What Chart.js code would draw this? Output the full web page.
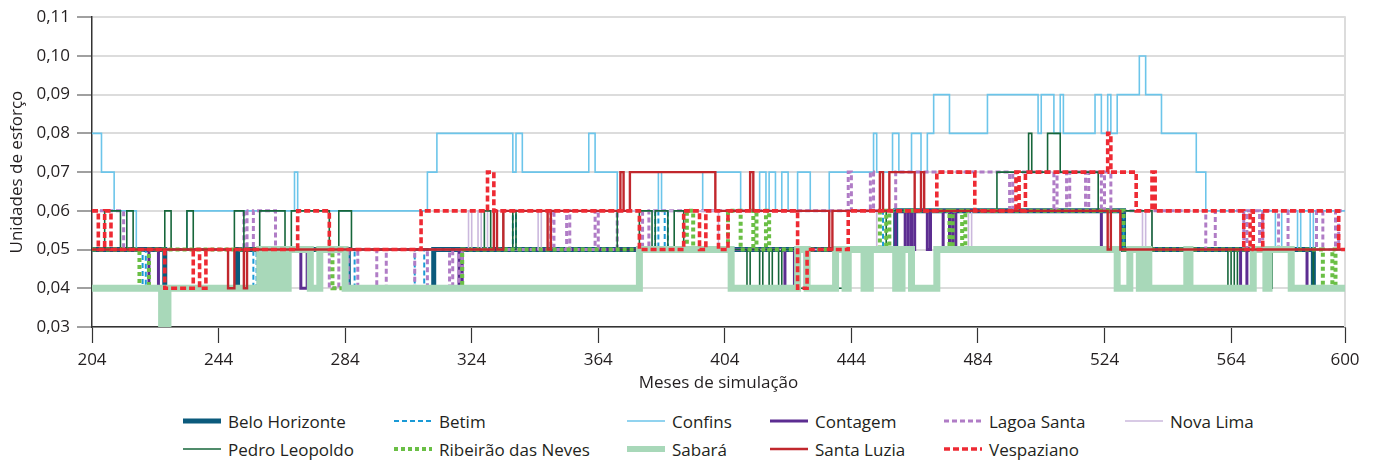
<!DOCTYPE html>
<html>
<head>
<meta charset="utf-8">
<script src="https://cdn.jsdelivr.net/npm/chart.js@4/dist/chart.umd.min.js"></script>
<style>
  body { margin: 0; background: #fff; font-family: 'Open Sans', sans-serif; color: #231f20; }
  #wrap { position: relative; width: 1375px; height: 461px; }
  #box { position: absolute; left: 0; top: 0; width: 1375px; height: 400px; }
  .lg { position: absolute; height: 24px; display: flex; align-items: center; font-size: 17px; white-space: nowrap; }
  .lg svg { margin-right: 7px; }
</style>
</head>
<body>
<div id="wrap">
  <div id="box"><canvas id="chart"></canvas></div>
  <div id="legend"></div>
</div>
<script>
// tick values
const xTicks = [204, 244, 284, 324, 364, 404, 444, 484, 524, 564, 600];
const yTicks = [0.03, 0.04, 0.05, 0.06, 0.07, 0.08, 0.09, 0.10, 0.11];

const seriesNames = ['Belo Horizonte', 'Betim', 'Confins', 'Contagem', 'Lagoa Santa', 'Nova Lima',
  'Pedro Leopoldo', 'Ribeirão das Neves', 'Sabará', 'Santa Luzia', 'Vespaziano'];

// [mês, valor] : valor vale a partir daquele mês
const beloHorizonte = [[204,0.05],[227,0.04],[250,0.05],[285,0.04],[312,0.05],[458,0.06],[530,0.05],[590,0.04],[600,0.04]];
const betim = [[204,0.05],[220,0.04],[221,0.05],[255,0.04],[256,0.05],[285,0.04],[287,0.05],[306,0.04],[309,0.05],
  [337,0.06],[338,0.05],[382,0.06],[383,0.05],[385,0.06],[386,0.05],[454,0.06],[530,0.05],[600,0.05]];
const confins = [[204,0.08],[207,0.07],[211,0.06],[218,0.05],[234,0.06],[268,0.07],[269,0.06],[310,0.07],[313,0.08],
  [337,0.07],[338,0.08],[340,0.07],[361,0.08],[363,0.07],[370,0.06],[383,0.07],[384,0.06],[397,0.07],[409,0.06],
  [415,0.07],[417,0.06],[418,0.07],[420,0.06],[422,0.07],[424,0.06],[427,0.07],[431,0.06],[437,0.07],[451,0.08],
  [452,0.07],[457,0.08],[459,0.07],[463,0.08],[466,0.07],[468,0.08],[470,0.09],[475,0.08],[487,0.09],[503,0.08],
  [504,0.09],[508,0.08],[510,0.09],[511,0.08],[521,0.09],[523,0.08],[525,0.09],[526,0.08],[528,0.09],[535,0.10],
  [537,0.09],[542,0.08],[553,0.07],[556,0.06],[578,0.05],[580,0.06],[585,0.05],[586,0.06],[589,0.05],[590,0.06],[600,0.06]];
const contagem = [[204,0.05],[222,0.04],[225,0.05],[270,0.04],[272,0.05],[320,0.04],[321,0.05],[423,0.04],[426,0.05],
  [458,0.06],[461,0.05],[462,0.06],[463,0.05],[464,0.06],[468,0.05],[469,0.06],[473,0.05],[475,0.06],[476,0.05],
  [477,0.06],[523,0.05],[567,0.04],[569,0.05],[588,0.04],[600,0.04]];
const lagoaSanta = [[204,0.06],[214,0.05],[252,0.06],[253,0.05],[255,0.06],[262,0.05],[279,0.04],[282,0.05],[285,0.04],
  [288,0.05],[294,0.04],[297,0.05],[306,0.04],[310,0.05],[317,0.04],[318,0.05],[320,0.04],[321,0.05],[349,0.06],
  [350,0.05],[354,0.06],[355,0.05],[363,0.06],[364,0.05],[370,0.06],[378,0.05],[380,0.06],[443,0.07],[444,0.06],
  [450,0.07],[451,0.06],[458,0.07],[494,0.06],[495,0.07],[508,0.06],[509,0.07],[512,0.06],[513,0.07],[518,0.06],
  [519,0.07],[523,0.06],[524,0.07],[526,0.06],[556,0.05],[559,0.06],[568,0.05],[569,0.06],[573,0.05],[574,0.06],
  [579,0.05],[582,0.06],[591,0.05],[593,0.06],[597,0.05],[598,0.06],[600,0.06]];
const novaLima = [[204,0.05],[323,0.06],[324,0.05],[326,0.06],[327,0.05],[329,0.06],[345,0.05],[346,0.06],[402,0.05],
  [427,0.04],[429,0.05],[452,0.06],[481,0.05],[482,0.06],[536,0.05],[537,0.06],[539,0.05],[600,0.05]];
const pedroLeopoldo = [[204,0.05],[208,0.06],[213,0.05],[215,0.06],[217,0.05],[227,0.06],[229,0.05],[234,0.06],[236,0.05],
  [249,0.06],[252,0.05],[257,0.06],[265,0.05],[267,0.06],[279,0.05],[282,0.06],[286,0.05],[328,0.06],[330,0.05],
  [334,0.06],[337,0.05],[338,0.06],[370,0.05],[377,0.06],[381,0.05],[382,0.06],[386,0.05],[388,0.06],[391,0.05],
  [411,0.04],[412,0.05],[415,0.04],[416,0.05],[418,0.04],[419,0.05],[421,0.04],[422,0.05],[427,0.04],[442,0.05],
  [455,0.06],[490,0.07],[500,0.08],[501,0.07],[506,0.08],[510,0.07],[522,0.06],[539,0.05],[563,0.04],[564,0.05],
  [565,0.04],[566,0.05],[575,0.04],[577,0.05],[590,0.04],[600,0.04]];
const ribeiraoNeves = [[204,0.05],[219,0.04],[222,0.05],[263,0.04],[265,0.05],[280,0.04],[321,0.05],[392,0.06],[394,0.05],
  [405,0.06],[409,0.05],[413,0.06],[414,0.05],[417,0.06],[418,0.05],[453,0.06],[455,0.05],[456,0.06],[475,0.05],
  [476,0.06],[479,0.05],[480,0.06],[530,0.05],[593,0.04],[596,0.05],[597,0.04],[600,0.04]];
const sabara = [[204,0.04],[226,0.03],[228,0.04],[257,0.05],[258,0.04],[260,0.05],[261,0.04],[262,0.05],[264,0.04],
  [266,0.05],[273,0.04],[276,0.05],[284,0.04],[377,0.05],[406,0.04],[427,0.05],[430,0.04],[439,0.05],[442,0.04],
  [443,0.05],[448,0.04],[450,0.05],[458,0.04],[460,0.05],[463,0.04],[471,0.05],[528,0.04],[532,0.05],[535,0.04],
  [536,0.05],[538,0.04],[550,0.05],[551,0.04],[571,0.05],[575,0.04],[576,0.05],[583,0.04],[600,0.04]];
const santaLuzia = [[204,0.05],[247,0.04],[249,0.05],[252,0.04],[253,0.05],[331,0.06],[332,0.05],[334,0.06],[348,0.05],
  [349,0.06],[371,0.07],[372,0.06],[374,0.07],[401,0.06],[412,0.07],[413,0.06],[437,0.05],[438,0.06],[453,0.07],
  [454,0.06],[456,0.07],[464,0.06],[466,0.07],[467,0.06],[525,0.05],[526,0.06],[529,0.05],[600,0.05]];
const vespaziano = [[204,0.06],[206,0.05],[208,0.06],[210,0.05],[227,0.04],[236,0.05],[238,0.04],[240,0.05],[269,0.06],
  [279,0.05],[308,0.06],[329,0.07],[331,0.06],[377,0.05],[391,0.06],[396,0.05],[398,0.06],[402,0.05],[405,0.06],
  [427,0.04],[430,0.05],[443,0.06],[471,0.07],[483,0.06],[496,0.07],[497,0.06],[499,0.07],[525,0.08],[526,0.07],
  [534,0.06],[539,0.07],[540,0.06],[568,0.05],[570,0.06],[571,0.05],[574,0.06],[598,0.05],[600,0.05]];

const seriesData = [beloHorizonte, betim, confins, contagem, lagoaSanta, novaLima,
  pedroLeopoldo, ribeiraoNeves, sabara, santaLuzia, vespaziano];

// estilos
const styles = [
  { color: '#0b5a7c', width: 5, dash: [] },
  { color: '#1a9ad6', width: 2, dash: [5, 3] },
  { color: '#6cc5ea', width: 1.6, dash: [] },
  { color: '#5c2d91', width: 3, dash: [] },
  { color: '#b07cc6', width: 3, dash: [5, 3] },
  { color: '#cbb8dd', width: 1.6, dash: [] },
  { color: '#16663a', width: 1.6, dash: [] },
  { color: '#6abf45', width: 4, dash: [4, 3] },
  { color: '#a8d8b9', width: 7, dash: [] },
  { color: '#c1272d', width: 2.4, dash: [] },
  { color: '#ee2a33', width: 3.6, dash: [6, 3] },
];

Chart.defaults.font.family = "'Open Sans', sans-serif";
Chart.defaults.font.size = 17;
Chart.defaults.color = '#231f20';

const rightBorder = {
  id: 'rightBorder',
  beforeDatasetsDraw(chart) {
    const { ctx, chartArea } = chart;
    ctx.save();
    ctx.strokeStyle = '#dcdcdc';
    ctx.lineWidth = 2;
    ctx.beginPath();
    ctx.moveTo(chartArea.right, chartArea.top - 1);
    ctx.lineTo(chartArea.right, chartArea.bottom);
    ctx.stroke();
    ctx.restore();
  }
};

const n = seriesNames.length;
new Chart(document.getElementById('chart'), {
  type: 'line',
  data: {
    datasets: seriesNames.map((name, i) => ({
      label: name,
      data: seriesData[i].map(p => ({ x: p[0], y: p[1] })),
      borderColor: styles[i].color,
      borderWidth: styles[i].width,
      borderDash: styles[i].dash,
      stepped: true,
      pointRadius: 0,
      fill: false,
      order: n - i
    }))
  },
  options: {
    responsive: true,
    maintainAspectRatio: false,
    animation: false,
    layout: { padding: { left: 0, right: 30, top: 16, bottom: 0 } },
    plugins: { legend: { display: false }, tooltip: { enabled: false } },
    scales: {
      x: {
        type: 'linear',
        min: 204,
        max: 600,
        afterBuildTicks: s => { s.ticks = xTicks.map(v => ({ value: v })); },
        afterFit: s => { s.height = 73; },
        ticks: { padding: 7, maxRotation: 0, autoSkip: false, color: '#231f20' },
        grid: { drawOnChartArea: false, tickLength: 16, tickColor: '#333', tickWidth: 1.2 },
        border: { color: '#333', width: 1.5 },
        title: { display: true, text: 'Meses de simulação', padding: { top: 0, bottom: 7 }, color: '#231f20' }
      },
      y: {
        min: 0.03,
        max: 0.11,
        afterBuildTicks: s => { s.ticks = yTicks.map(v => ({ value: v })); },
        afterFit: s => { s.width = 92; },
        ticks: { padding: 7, color: '#231f20', callback: v => v.toFixed(2).replace('.', ',') },
        grid: { color: '#dcdcdc', lineWidth: 2, tickLength: 15, tickColor: '#808080', tickWidth: 1.5 },
        border: { color: '#333', width: 1.5 },
        title: { display: true, text: 'Unidades de esforço', padding: { top: 7, bottom: 0 }, color: '#231f20' }
      }
    }
  },
  plugins: [rightBorder]
});

// legenda em duas linhas
const colX = [183, 394, 627, 770, 944, 1125];
const rowY = [421, 449];
const legend = document.getElementById('legend');
seriesNames.forEach((name, i) => {
  const row = i < 6 ? 0 : 1;
  const col = i < 6 ? i : i - 6;
  const st = styles[i];
  const item = document.createElement('div');
  item.className = 'lg';
  item.style.left = colX[col] + 'px';
  item.style.top = (rowY[row] - 12) + 'px';
  item.innerHTML = '<svg width="38" height="10"><line x1="0" y1="5" x2="38" y2="5" stroke="' + st.color +
    '" stroke-width="' + Math.min(st.width, 6) + '" stroke-dasharray="' + st.dash.join(',') + '"/></svg>' +
    '<span>' + name + '</span>';
  legend.appendChild(item);
});
</script>
</body>
</html>
